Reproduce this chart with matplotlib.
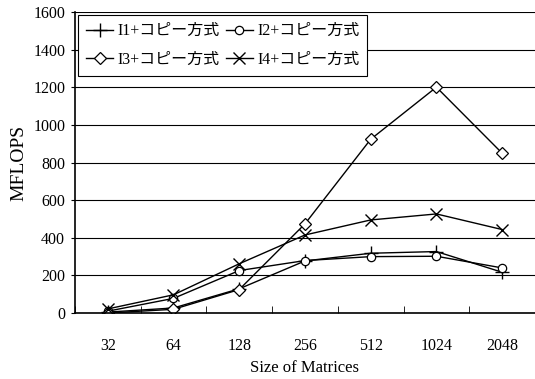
import matplotlib
matplotlib.use("Agg")
from matplotlib import pyplot as plt
import numpy as np

# 行列サイズごとの性能 (MFLOPS)
sizes = ["32", "64", "128", "256", "512", "1024", "2048"]
i1 = [5, 27, 129, 277, 318, 327, 217]
i2 = [10, 78, 226, 279, 300, 302, 240]
i3 = [0, 20, 125, 474, 924, 1201, 850]
i4 = [22, 97, 262, 415, 495, 527, 444]
labels = ["I1+コピー方式", "I2+コピー方式", "I3+コピー方式", "I4+コピー方式"]

plt.rcParams['font.family'] = ['Liberation Serif', 'Noto Sans CJK JP']

fig = plt.figure(figsize=(5.35, 3.79), dpi=100)
ax = fig.add_axes([0.14, 0.174, 0.86, 0.794])

x = np.arange(len(sizes))
l1, = ax.plot(x, i1, color="black", lw=1, marker="+", ms=10, mew=1, label=labels[0])
l2, = ax.plot(x, i2, color="black", lw=1, marker="o", ms=6, mfc="white", mew=0.9, label=labels[1])
l3, = ax.plot(x, i3, color="black", lw=1, marker="D", ms=6.5, mfc="white", mew=0.9, label=labels[2])
l4, = ax.plot(x, i4, color="black", lw=1, marker="x", ms=8, mew=1, label=labels[3])

ax.set_xlim(-0.5, len(sizes) - 0.5)
ax.set_ylim(0, 1600)
ax.set_yticks(range(0, 1601, 200))
ax.set_xticks(x)
ax.set_xticklabels(sizes)
ax.set_xticks(np.arange(-0.5, len(sizes) - 0.4, 1), minor=True)
ax.tick_params(axis="x", which="major", length=0, labelsize=11.5, pad=18)
ax.tick_params(axis="x", which="minor", direction="in", length=5, color="black")
ax.tick_params(axis="y", direction="out", length=3, labelsize=11.5, pad=4)

ax.yaxis.grid(True, color="black", lw=0.8)
ax.set_axisbelow(True)
ax.spines["top"].set_visible(False)
ax.spines["right"].set_visible(False)
ax.spines["left"].set_linewidth(1.2)
ax.spines["bottom"].set_linewidth(1.2)

ax.set_xlabel("Size of Matrices", fontsize=12, labelpad=4)
ax.set_ylabel("MFLOPS", fontsize=14, labelpad=4)

# 行方向に並べる: 1行目 I1, I2 / 2行目 I3, I4
leg = ax.legend([l1, l3, l2, l4], [labels[0], labels[2], labels[1], labels[3]],
                loc="upper left", ncol=2, fontsize=11.5, frameon=True, fancybox=False,
                edgecolor="black", framealpha=1, borderaxespad=0.2, handlelength=1.7,
                columnspacing=0.4, handletextpad=0.25, borderpad=0.5, labelspacing=0.8)
leg.get_frame().set_linewidth(0.8)

plt.savefig("out.png", dpi=100)
